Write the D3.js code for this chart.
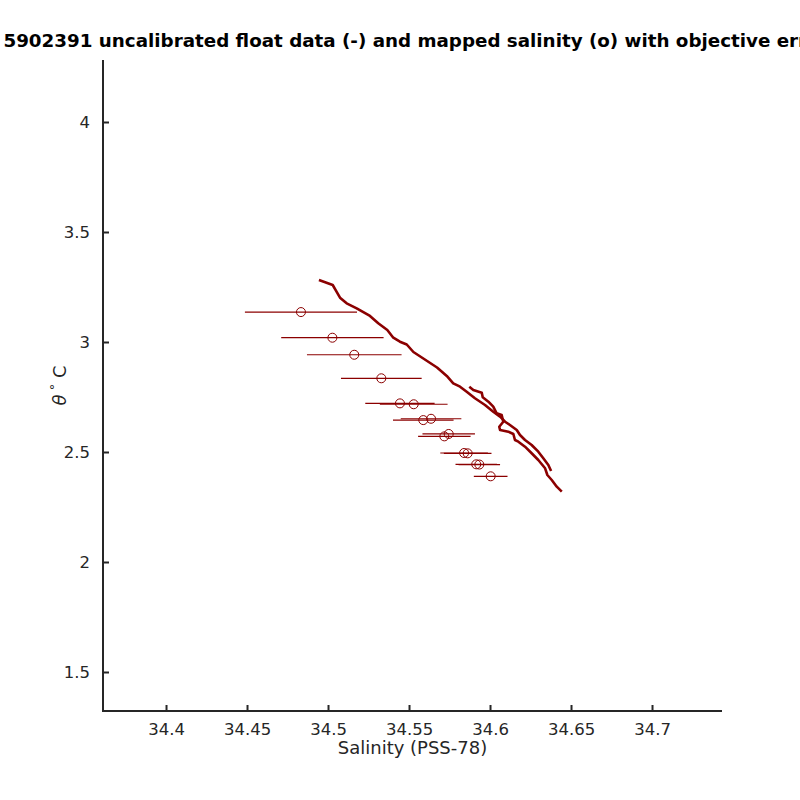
<!DOCTYPE html>
<html>
<head>
<meta charset="utf-8">
<script src="https://d3js.org/d3.v7.min.js"></script>
<style>
  body { margin: 0; background: #fff; overflow: hidden; }
  text { font-family: "DejaVu Sans", sans-serif; fill: #262626; }
</style>
</head>
<body>
<div id="chart"></div>
<script>
// float data, two profiles (salinity, theta)
var floatSal1 = [34.4944, 34.5029, 34.5049, 34.5074, 34.5115, 34.5177, 34.5259, 34.5310, 34.5366, 34.5403,
                 34.5444, 34.5486, 34.5527, 34.5593, 34.5673, 34.5733, 34.5773, 34.5815, 34.5856, 34.5907,
                 34.5969, 34.6020, 34.6062, 34.6093, 34.6123, 34.6165, 34.6185, 34.6216, 34.6257, 34.6298,
                 34.6329, 34.6360, 34.6377];
var floatTheta1 = [3.2818, 3.2591, 3.2332, 3.2014, 3.1759, 3.1532, 3.1182, 3.0850, 3.0545, 3.0195,
                   3.0014, 2.9886, 2.9545, 2.9227, 2.8841, 2.8455, 2.8123, 2.7968, 2.7741, 2.7441,
                   2.7136, 2.6832, 2.6605, 2.6377, 2.6227, 2.6000, 2.5773, 2.5545, 2.5318, 2.5014,
                   2.4714, 2.4409, 2.4136];
var floatSal2 = [34.5872, 34.5897, 34.5949, 34.5955, 34.5990, 34.6020, 34.6041, 34.6072, 34.6082, 34.6057,
                 34.6062, 34.6113, 34.6144, 34.6154, 34.6175, 34.6216, 34.6257, 34.6298, 34.6340, 34.6354,
                 34.6381, 34.6412, 34.6443];
var floatTheta2 = [2.7968, 2.7818, 2.7695, 2.7486, 2.7286, 2.7059, 2.6759, 2.6682, 2.6377, 2.6150,
                   2.6000, 2.5923, 2.5818, 2.5545, 2.5468, 2.5241, 2.4941, 2.4636, 2.4259, 2.3955,
                   2.3727, 2.3423, 2.3195];

// mapped salinity with objective error
var mapSal = [34.4833, 34.5027, 34.5162, 34.5329, 34.5444, 34.5529, 34.5588, 34.5636, 34.5718, 34.5745,
              34.5840, 34.5862, 34.5915, 34.5934, 34.6004];
var mapTheta = [3.136, 3.0195, 2.942, 2.835, 2.721, 2.717, 2.645, 2.651, 2.571, 2.582,
                2.4955, 2.494, 2.444, 2.443, 2.3895];
var mapErr = [0.0346, 0.0316, 0.0292, 0.0249, 0.0214, 0.0209, 0.0187, 0.0187, 0.0162, 0.0162,
              0.0147, 0.0147, 0.0128, 0.0128, 0.0104];

var xTicks = [34.4, 34.45, 34.5, 34.55, 34.6, 34.65, 34.7];
var yTicks = [1.5, 2, 2.5, 3, 3.5, 4];

var titleText = "5902391 uncalibrated float data (-) and mapped salinity (o) with objective errors";
var red = "#8b0000";

var W = 800, H = 800,
    mLeft = 103, mRight = 722, mTop = 60, mBottom = 711;

var svg = d3.select("#chart").append("svg")
    .attr("width", W)
    .attr("height", H);

var x = d3.scaleLinear().domain([34.3611, 34.7432]).range([mLeft, mRight]);
var y = d3.scaleLinear().domain([1.3227, 4.2818]).range([mBottom, mTop]);

// axes (ticks point inward)
var xAxis = d3.axisBottom(x).tickValues(xTicks).tickFormat(d3.format("")).tickSizeInner(-6).tickSizeOuter(0).tickPadding(12);
var yAxis = d3.axisLeft(y).tickValues(yTicks).tickFormat(d3.format("")).tickSizeInner(-6).tickSizeOuter(0).tickPadding(13);

var gx = svg.append("g").attr("transform", "translate(0," + mBottom + ")").call(xAxis);
var gy = svg.append("g").attr("transform", "translate(" + mLeft + ",0)").call(yAxis);

[gx, gy].forEach(function (g) {
  g.select(".domain").attr("stroke", "#262626").attr("stroke-width", 2);
  g.selectAll(".tick line").attr("stroke", "#262626").attr("stroke-width", 2);
  g.selectAll(".tick text").attr("font-size", 16.5).attr("fill", "#262626")
    .attr("font-family", "DejaVu Sans, sans-serif");
});
// extend domains to full box corners
gx.select(".domain").attr("d", "M" + (mLeft - 1) + ",0H" + mRight);
gy.select(".domain").attr("d", "M0," + mTop + "V" + (mBottom + 1));

// float lines
var line = d3.line().x(function (d) { return x(d[0]); }).y(function (d) { return y(d[1]); });
[[floatSal1, floatTheta1], [floatSal2, floatTheta2]].forEach(function (p) {
  svg.append("path")
    .datum(d3.zip(p[0], p[1]))
    .attr("fill", "none")
    .attr("stroke", red)
    .attr("stroke-width", 2.6)
    .attr("stroke-linejoin", "round")
    .attr("d", line);
});

// error bars and mapped points
var pts = d3.range(mapSal.length).map(function (i) {
  return {s: mapSal[i], t: mapTheta[i], e: mapErr[i]};
});
svg.append("g").selectAll("line").data(pts).join("line")
    .attr("x1", function (d) { return x(d.s - d.e); })
    .attr("x2", function (d) { return x(d.s + d.e); })
    .attr("y1", function (d) { return y(d.t); })
    .attr("y2", function (d) { return y(d.t); })
    .attr("stroke", red)
    .attr("stroke-width", 1.2);
svg.append("g").selectAll("circle").data(pts).join("circle")
    .attr("cx", function (d) { return x(d.s); })
    .attr("cy", function (d) { return y(d.t); })
    .attr("r", 4.5)
    .attr("fill", "none")
    .attr("stroke", red)
    .attr("stroke-width", 1);

// labels
svg.append("text")
    .attr("x", 421.5).attr("y", 47)
    .attr("text-anchor", "middle")
    .attr("font-size", 18.3).attr("font-weight", "bold")
    .style("fill", "#000")
    .text(titleText);

svg.append("text")
    .attr("x", (mLeft + mRight) / 2).attr("y", 754)
    .attr("text-anchor", "middle")
    .attr("font-size", 18)
    .text("Salinity (PSS-78)");

var yl = svg.append("text")
    .attr("transform", "translate(66," + (mTop + mBottom) / 2 + ")rotate(-90)")
    .attr("text-anchor", "middle")
    .attr("font-size", 18);
yl.append("tspan").attr("font-style", "italic").text("\u03b8");
yl.append("tspan").attr("dy", -7).attr("font-size", 13).text("  \u00b0");
yl.append("tspan").attr("dy", 7).text("  C");
</script>
</body>
</html>
